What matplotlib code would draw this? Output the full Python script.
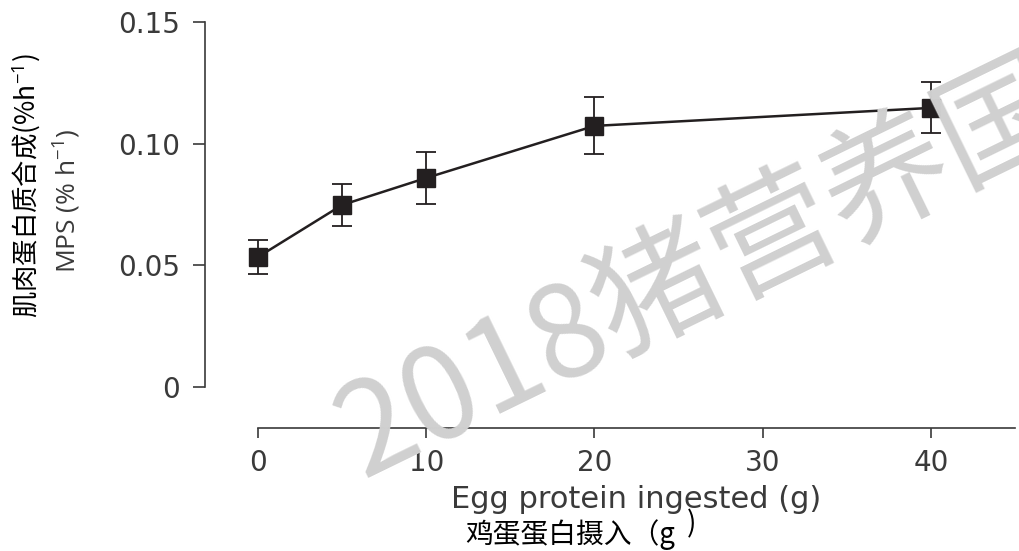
import matplotlib
matplotlib.use("Agg")
import matplotlib.pyplot as plt

# egg protein dose (g) vs muscle protein synthesis (% per h)
dose = [0, 5, 10, 20, 40]
mps = [0.0534, 0.0748, 0.0859, 0.1073, 0.1147]
mps_err = [0.0070, 0.0088, 0.0107, 0.0117, 0.0105]
xticks = [0, 10, 20, 30, 40]
yticks = [0, 0.05, 0.10, 0.15]
ytick_labels = ["0", "0.05", "0.10", "0.15"]

ink = "#231f20"
grey = "#3a3a3a"
cjk = ['Noto Sans CJK SC', 'DejaVu Sans']

plt.rcParams['font.family'] = ['DejaVu Sans', 'Noto Sans CJK SC']
plt.rcParams['mathtext.fontset'] = 'custom'
plt.rcParams['mathtext.rm'] = 'Open Sans'
plt.rcParams['mathtext.it'] = 'Open Sans'

fig = plt.figure(figsize=(10.2, 5.51), dpi=100)
ax = fig.add_axes([0.2010, 0.2232, 0.7941, 0.7368])

ax.errorbar(dose, mps, yerr=mps_err, color=ink, lw=1.8, marker='s', ms=13,
            mfc=ink, mec=ink, ecolor=ink, elinewidth=1.3, capsize=7, capthick=1.3,
            zorder=3)

ax.set_xlim(-3.15, 45)
ax.set_ylim(-0.0169, 0.15)
ax.set_xticks(xticks)
ax.set_yticks(yticks)
ax.set_yticklabels(ytick_labels)

for side in ["top", "right"]:
    ax.spines[side].set_visible(False)
ax.spines["left"].set_bounds(0, 0.15)
ax.spines["bottom"].set_bounds(0, 45)
for side in ["left", "bottom"]:
    ax.spines[side].set_color(grey)
    ax.spines[side].set_linewidth(1.2)

ax.tick_params(axis='y', direction='out', length=9, width=1.2, pad=9,
               colors=grey, labelsize=20)
ax.tick_params(axis='x', direction='out', length=7, width=1.2, pad=8,
               colors=grey, labelsize=20)

# axis titles, English and Chinese
fig.text(0.066, 1 - 201 / 551, "MPS (% h$^{-1}$)", rotation=90, ha='center',
         va='center', fontsize=19, color=grey, family=['Open Sans', 'DejaVu Sans'])
fig.text(0.026, 1 - 186 / 551, "肌肉蛋白质合成(%h$^{-1}$)", rotation=90, ha='center',
         va='center', fontsize=19, color='black', family=cjk)
fig.text(636 / 1020, 1 - 500 / 551, "Egg protein ingested (g)", ha='center',
         va='center', fontsize=22, color=grey)
fig.text(465 / 1020, 1 - 535 / 551, "鸡蛋蛋白摄入（g", ha='left', va='center',
         fontsize=20, color='black', family=cjk)
fig.text(687 / 1020, 1 - 524 / 551, ")", ha='left', va='center',
         fontsize=20, color='black', family=cjk)

# watermark
fig.text(363 / 1020, 1 - 478 / 551, "2018猪营养国", rotation=26, rotation_mode='anchor',
         ha='left', va='baseline', fontsize=92, fontweight='light', color='#d0d0d0',
         zorder=10, family=cjk)

fig.savefig("out.png", dpi=100)
